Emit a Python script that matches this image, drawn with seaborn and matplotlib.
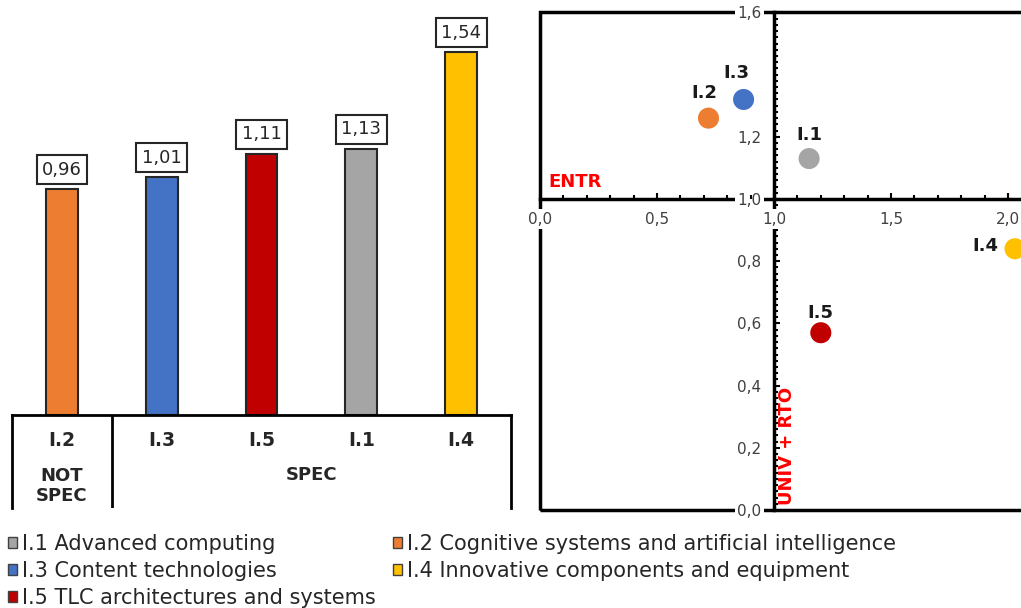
import numpy as np
import matplotlib.pyplot as plt
import seaborn as sns
from matplotlib.patches import Patch, Rectangle
from matplotlib.ticker import FixedLocator, MultipleLocator, FuncFormatter

# --- data -------------------------------------------------------------
# left panel: bars, in the order shown
bar_codes = ["I.2", "I.3", "I.5", "I.1", "I.4"]
bar_values = [0.96, 1.01, 1.11, 1.13, 1.54]
group_names = ["NOT\nSPEC", "SPEC"]
group_sizes = [1, 4]

# right panel: ENTR (x) vs UNIV + RTO (y)
pt_codes = ["I.1", "I.2", "I.3", "I.4", "I.5"]
pt_x = [1.15, 0.72, 0.87, 2.03, 1.20]
pt_y = [1.13, 1.26, 1.32, 0.84, 0.57]

x_ticks = [0.0, 0.5, 1.0, 1.5, 2.0]
y_ticks = [0.0, 0.2, 0.4, 0.6, 0.8, 1.0, 1.2, 1.6]

legend_codes = ["I.1", "I.3", "I.5", "I.2", "I.4"]
legend_names = ["Advanced computing", "Content technologies",
                "TLC architectures and systems",
                "Cognitive systems and artificial intelligence",
                "Innovative components and equipment"]

colors = {"I.1": "#A5A5A5", "I.2": "#ED7D31", "I.3": "#4472C4",
          "I.4": "#FFC000", "I.5": "#C00000"}

# label offsets for the scatter points (points)
label_off = {"I.1": (0, 17, "center"), "I.2": (-3, 18, "center"),
             "I.3": (-5, 19, "center"), "I.4": (-12, 2, "right"),
             "I.5": (0, 14.5, "center")}

sns.set_style("white")
plt.rcParams['font.family'] = ['DejaVu Sans']

W, H = 1021, 608
fig = plt.figure(figsize=(W / 100, H / 100), dpi=100)


def px_axes(left, top, right, bottom):
    return fig.add_axes([left / W, 1 - bottom / H, (right - left) / W, (bottom - top) / H])


def comma(v, pos=None):
    return f"{v:.1f}".replace(".", ",")


# --- bars ---------------------------------------------------------------
ax_bar = px_axes(12, 15, 511, 415)
sns.barplot(x=bar_codes, y=bar_values, hue=bar_codes, palette=colors,
            order=bar_codes, width=0.32, saturation=1, edgecolor="#262626",
            linewidth=1.5, legend=False, ax=ax_bar)
ax_bar.set_xlim(-0.5, 4.5)
ax_bar.set_ylim(0, 400 / 235.5)
ax_bar.axis("off")
for cont in ax_bar.containers:
    ax_bar.bar_label(cont, labels=[f"{b.get_height():.2f}".replace(".", ",") for b in cont],
                     padding=7.5, fontsize=13, color="#262626",
                     bbox=dict(boxstyle="square,pad=0.3", facecolor="white",
                               edgecolor="#262626", linewidth=1.5))

# category table under the bars
ax_tab = px_axes(12, 415, 511, 508)
ax_tab.set_xlim(-0.5, 4.5)
ax_tab.set_ylim(0, 1)
ax_tab.set_xticks([])
ax_tab.set_yticks([])
ax_tab.spines["bottom"].set_visible(False)
for side in ["top", "left", "right"]:
    ax_tab.spines[side].set_linewidth(2)
    ax_tab.spines[side].set_color("black")
for i, code in enumerate(bar_codes):
    ax_tab.text(i, 0.73, code, ha="center", va="center", fontsize=13.5,
                fontweight="bold", color="#262626")
start = 0
for name, size in zip(group_names, group_sizes):
    mid = start + (size - 1) / 2
    ypos = 0.237 if "\n" in name else 0.355
    ax_tab.text(mid, ypos, name, ha="center", va="center", fontsize=13,
                fontweight="bold", color="#262626", linespacing=1.15)
    if start + size < len(bar_codes):
        ax_tab.axvline(start + size - 0.5, color="black", lw=2)
    start += size

# --- scatter --------------------------------------------------------------
ax_sc = px_axes(540, 12.4, 540 + 2.1 * 234, 510)
sns.scatterplot(x=pt_x, y=pt_y, hue=pt_codes, palette=colors, s=230,
                edgecolor="none", legend=False, ax=ax_sc, zorder=5)
ax_sc.set_xlim(0, 2.1)
ax_sc.set_ylim(0, 1.6)

for side in ["left", "bottom"]:
    ax_sc.spines[side].set_position(("data", 1.0))
    ax_sc.spines[side].set_linewidth(2.5)
    ax_sc.spines[side].set_color("black")
    ax_sc.spines[side].set_zorder(2)
ax_sc.spines["top"].set_visible(False)
ax_sc.spines["right"].set_visible(False)
ax_sc.add_patch(Rectangle((0, 0), 1, 1, transform=ax_sc.transAxes, fill=False,
                          lw=2.5, ec="black", clip_on=False, zorder=2))

ax_sc.xaxis.set_major_locator(FixedLocator(x_ticks))
ax_sc.xaxis.set_minor_locator(MultipleLocator(0.1))
ax_sc.yaxis.set_major_locator(FixedLocator(y_ticks))
ax_sc.yaxis.set_minor_locator(MultipleLocator(0.02))
ax_sc.xaxis.set_major_formatter(FuncFormatter(comma))
ax_sc.yaxis.set_major_formatter(FuncFormatter(comma))
ax_sc.tick_params(which="both", direction="in", color="black", width=1.5,
                  bottom=True, left=True, top=False, right=False,
                  labelsize=11, labelcolor="#404040")
ax_sc.tick_params(which="major", length=4)
ax_sc.tick_params(which="minor", length=3)
ax_sc.tick_params(axis="x", pad=9)
ax_sc.tick_params(axis="y", pad=9)
# x labels sit on top of the vertical lines below the crossing
ax_sc.yaxis.set_zorder(3)
ax_sc.xaxis.set_zorder(3.5)
for lbl in ax_sc.get_xticklabels() + ax_sc.get_yticklabels():
    lbl.set_bbox(dict(facecolor="white", edgecolor="none", pad=1.5))

for code, x, y in zip(pt_codes, pt_x, pt_y):
    dx, dy, ha = label_off[code]
    ax_sc.annotate(code, (x, y), xytext=(dx, dy), textcoords="offset points",
                   ha=ha, va="center", fontsize=13, fontweight="bold",
                   color="#1a1a1a", zorder=6)

ax_sc.text(0.034, 1.026, "ENTR", color="#FF0000", fontsize=13,
           fontweight="bold", ha="left", va="bottom", zorder=6)
ax_sc.text(1.056, 0.015, "UNIV + RTO", color="#FF0000", fontsize=13,
           fontweight="bold", rotation=90, ha="center", va="bottom", zorder=6)

# --- legend ---------------------------------------------------------------
handles = [Patch(facecolor=colors[c], edgecolor="#404040", linewidth=1,
                 label=f"{c} {n}") for c, n in zip(legend_codes, legend_names)]
fig.legend(handles=handles, ncol=2, loc="upper left",
           bbox_to_anchor=(8 / W, 1 - 534 / H), frameon=False, fontsize=15,
           handlelength=0.45, handleheight=0.45, handletextpad=0.2,
           columnspacing=0.85, labelspacing=0.33, borderaxespad=0, borderpad=0,
           labelcolor="#262626")

fig.savefig("out.png", dpi=100)
